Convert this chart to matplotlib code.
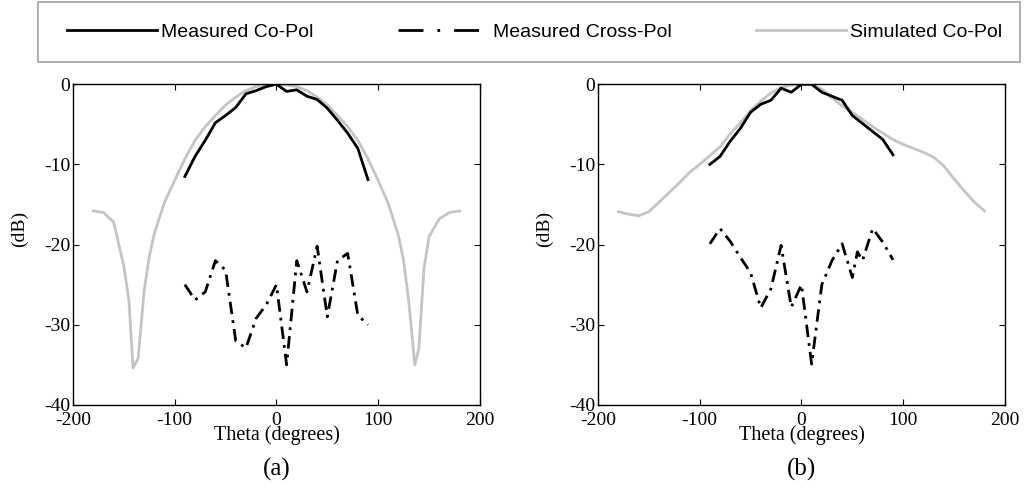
import matplotlib
matplotlib.use('Agg')
import matplotlib.pyplot as plt
from matplotlib.lines import Line2D
from matplotlib.patches import Rectangle
import numpy as np

# angles (degrees)
thetaMeas = [-90, -80, -70, -60, -50, -40, -30, -20, -10, 0, 10, 20, 30, 40, 50, 60, 70, 80, 90]
thetaSim = [-180, -170, -160, -150, -145, -141, -136, -130, -125, -120, -110, -100, -90, -80, -70,
            -60, -50, -40, -30, -20, -10, 0, 10, 20, 30, 40, 50, 60, 70, 80, 90, 100, 110, 120,
            125, 130, 136, 140, 145, 150, 160, 170, 180]
thetaSimB = [-180, -170, -160, -150, -140, -130, -120, -110, -100, -90, -80, -70, -60, -50, -40,
             -30, -20, -10, 0, 10, 20, 30, 40, 50, 60, 70, 80, 90, 100, 110, 120, 130, 140, 150,
             160, 170, 180]
thetaCrossB = [-90, -80, -70, -60, -50, -40, -30, -20, -10, 0, 10, 20, 30, 40, 50, 55, 60, 70, 80, 90]

# panel (a)
coPolA = [-11.5, -9.0, -7.0, -4.8, -3.9, -2.9, -1.2, -0.8, -0.3, 0.0, -0.9, -0.7, -1.5, -1.9,
          -3.0, -4.5, -6.1, -8.0, -11.9]
crossPolA = [-25.0, -26.9, -25.9, -22.0, -23.2, -32.0, -32.9, -29.2, -27.5, -25.0, -35.0, -22.0,
             -25.9, -20.2, -29.0, -22.0, -21.1, -28.8, -30.0]
simA = [-15.8, -16.0, -17.2, -22.7, -27.0, -35.4, -34.2, -25.7, -21.5, -18.6, -14.7, -12.0, -9.3,
        -7.0, -5.3, -3.9, -2.6, -1.6, -0.8, -0.3, -0.1, 0.0, -0.1, -0.3, -0.8, -1.6, -2.6, -3.9,
        -5.3, -7.0, -9.3, -12.0, -14.9, -18.9, -22.0, -27.0, -35.0, -33.0, -23.0, -19.0, -16.8,
        -16.0, -15.8]

# panel (b)
coPolB = [-10.0, -9.0, -7.1, -5.5, -3.5, -2.5, -2.0, -0.5, -1.0, 0.0, 0.0, -1.0, -1.5, -2.0,
          -3.9, -4.9, -5.9, -6.9, -8.8]
crossPolB = [-19.9, -18.0, -19.6, -21.6, -23.5, -27.9, -25.5, -20.1, -27.8, -25.0, -34.9, -25.0,
             -22.0, -19.9, -24.1, -20.9, -22.0, -18.0, -19.7, -21.9]
simB = [-15.9, -16.2, -16.4, -15.9, -14.7, -13.5, -12.3, -11.0, -10.0, -8.9, -7.8, -6.2, -4.8,
        -3.3, -2.1, -1.1, -0.4, -0.1, 0.0, -0.1, -0.6, -1.7, -2.7, -3.5, -4.4, -5.3, -6.1, -6.9,
        -7.5, -8.0, -8.5, -9.1, -10.2, -11.8, -13.3, -14.7, -15.8]

xTicks = [-200, -100, 0, 100, 200]
yTicks = [-40, -30, -20, -10, 0]
legendLabels = ['Measured Co-Pol', 'Measured Cross-Pol', 'Simulated Co-Pol']

plt.rcParams['font.family'] = ['Liberation Serif', 'DejaVu Serif']
plt.rcParams['axes.unicode_minus'] = False

fig = plt.figure(figsize=(10.25, 4.86), dpi=100)
axA = fig.add_axes([0.0712, 0.1667, 0.397, 0.660])
axB = fig.add_axes([0.5834, 0.1667, 0.397, 0.660])

dashDot = (0, (4.5, 2.2, 1.0, 2.2))
grey = '#c4c4c4'

panels = [(axA, thetaSim, simA, thetaMeas, crossPolA, '(a)'),
          (axB, thetaSimB, simB, thetaCrossB, crossPolB, '(b)')]
coPols = [coPolA, coPolB]

for i, (ax, ts, sim, tc, cross, tag) in enumerate(panels):
    ax.plot(ts, sim, color=grey, lw=2.0)
    ax.plot(thetaMeas, coPols[i], color='black', lw=2.0)
    ax.plot(tc, cross, color='black', lw=2.0, linestyle=dashDot)
    ax.set_xlim(-200, 200)
    ax.set_ylim(-40, 0)
    ax.set_xticks(xTicks)
    ax.set_yticks(yTicks)
    ax.tick_params(direction='in', top=True, right=True, length=4, width=0.8, labelsize=14)
    ax.tick_params(axis='x', pad=5)
    ax.tick_params(axis='y', pad=2)
    for s in ax.spines.values():
        s.set_linewidth(1.0)
    ax.set_ylabel('(dB)', fontsize=14)
    ax.yaxis.set_label_coords(-0.11, 0.55)
    ax.text(0.5, -0.095, 'Theta (degrees)', transform=ax.transAxes, ha='center', va='center',
            fontsize=14.5)
    ax.text(0.5, -0.2, tag, transform=ax.transAxes, ha='center', va='center', fontsize=18)

# legend with its own (longer) dash pattern, like the original figure
legHandles = [Line2D([], [], color='black', lw=2.0),
              Line2D([], [], color='black', lw=2.0, linestyle=(0, (9.0, 5.0, 1.0, 5.0))),
              Line2D([], [], color=grey, lw=2.0)]
leg = fig.legend(legHandles, legendLabels, loc='center left',
                 bbox_to_anchor=(67 / 1025, 1 - 32 / 486), ncol=3,
                 handlelength=4.65, handletextpad=0.2, columnspacing=4.35,
                 frameon=False, borderpad=0, borderaxespad=0,
                 prop={'family': ['Liberation Sans', 'DejaVu Sans'], 'size': 14})

fig.add_artist(Rectangle((38 / 1025, 1 - 62 / 486), 982 / 1025, 60 / 486,
                         transform=fig.transFigure, fill=False, edgecolor='#a0a0a0', lw=1.2))

fig.savefig('out.png', dpi=100)
